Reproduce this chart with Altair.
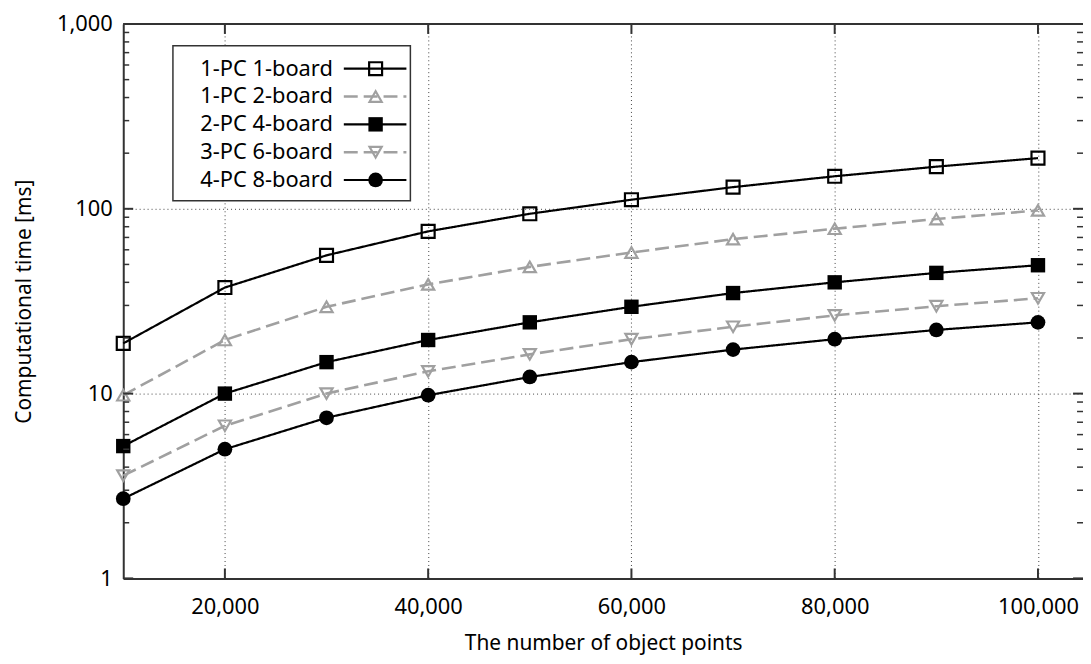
import altair as alt
import pandas as pd

# ---- data ----
x_points = [10000, 20000, 30000, 40000, 50000, 60000, 70000, 80000, 90000, 100000]
pc1_board1 = [18.7, 37.5, 56, 75.5, 94, 112, 131, 150, 169, 188]
pc1_board2 = [9.8, 19.5, 29.5, 39, 48.5, 58, 68.5, 78, 88, 98]
pc2_board4 = [5.2, 10, 14.8, 19.5, 24.3, 29.5, 35, 40, 45, 49.5]
pc3_board6 = [3.6, 6.7, 10, 13.2, 16.3, 19.7, 23, 26.5, 29.7, 32.8]
pc4_board8 = [2.7, 5.0, 7.4, 9.8, 12.3, 14.8, 17.3, 19.7, 22.1, 24.3]

series_names = ["1-PC 1-board", "1-PC 2-board", "2-PC 4-board", "3-PC 6-board", "4-PC 8-board"]
series_values = [pc1_board1, pc1_board2, pc2_board4, pc3_board6, pc4_board8]

x_ticks = [20000, 40000, 60000, 80000, 100000]
y_ticks = [1, 10, 100, 1000]
y_minor = [m * d for d in (1, 10, 100) for m in range(2, 10)]

# ---- styles ----
FONT = "Noto Sans"
GRAY = "#a0a0a0"
line_colors = ["#000000", GRAY, "#000000", GRAY, "#000000"]
dashes = [[1, 0], [14, 6], [1, 0], [14, 6], [1, 0]]
shapes = ["square", "triangle-up", "square", "triangle-down", "circle"]
filled = [False, False, True, False, True]
sizes = [170, 150, 210, 150, 220]

W, H = 966, 558
XMAX = 104430
xscale = alt.Scale(domain=[10000, XMAX], nice=False, zero=False)
yscale = alt.Scale(type="log", domain=[1, 1000], nice=False)

xaxis = alt.Axis(values=x_ticks, labelExpr="format(datum.value, ',')", ticks=False, grid=True,
                 labelPadding=18, titlePadding=16)
yaxis = alt.Axis(values=y_ticks, labelExpr="format(datum.value, ',')", ticks=False, grid=True,
                 labelPadding=11, titlePadding=22)
XT = "The number of object points"
YT = "Computational time [ms]"


def X(field="x"):
    return alt.X(f"{field}:Q", scale=xscale, axis=xaxis, title=XT)


def Y(field="y"):
    return alt.Y(f"{field}:Q", scale=yscale, axis=yaxis, title=YT)


layers = []

# main series
for i, (name, vals) in enumerate(zip(series_names, series_values)):
    df = pd.DataFrame({"x": x_points, "y": vals, "series": name})
    base = alt.Chart(df).encode(x=X(), y=Y())
    line = base.mark_line(color=line_colors[i], strokeDash=dashes[i],
                          strokeWidth=2.2 if i % 2 == 0 else 2.6)
    pt = base.mark_point(shape=shapes[i], filled=filled[i], size=sizes[i],
                         color=line_colors[i], strokeWidth=2.2, opacity=1)
    layers += [line, pt]

# tick marks (inward)
ymaj = pd.DataFrame({"y": y_ticks})
ymin = pd.DataFrame({"y": y_minor})
xmaj = pd.DataFrame({"x": x_ticks})
TC = "#333"
layers.append(alt.Chart(ymaj).mark_rule(color=TC, strokeWidth=2).encode(
    y=Y(), x=alt.value(0), x2=alt.value(10)))
layers.append(alt.Chart(ymaj).mark_rule(color=TC, strokeWidth=2).encode(
    y=Y(), x=alt.value(W - 10), x2=alt.value(W)))
layers.append(alt.Chart(ymin).mark_rule(color=TC, strokeWidth=1.5).encode(
    y=Y(), x=alt.value(0), x2=alt.value(6)))
layers.append(alt.Chart(ymin).mark_rule(color=TC, strokeWidth=1.5).encode(
    y=Y(), x=alt.value(W - 6), x2=alt.value(W)))
layers.append(alt.Chart(xmaj).mark_rule(color=TC, strokeWidth=2).encode(
    x=X(), y=alt.value(H - 10), y2=alt.value(H)))
layers.append(alt.Chart(xmaj).mark_rule(color=TC, strokeWidth=2).encode(
    x=X(), y=alt.value(0), y2=alt.value(10)))
# top border
one = pd.DataFrame({"k": [0]})
layers.append(alt.Chart(one).mark_rule(color=TC, strokeWidth=2).encode(
    x=alt.value(0), x2=alt.value(W), y=alt.value(0)))

# ---- manual legend ----
LX0, LX1, LY0, LY1 = 50, 289, 22, 178
layers.append(alt.Chart(one).mark_rect(fill="white", stroke="#333", strokeWidth=1.5).encode(
    x=alt.value(LX0), x2=alt.value(LX1), y=alt.value(LY0), y2=alt.value(LY1)))
row_y = [45, 73, 101, 129, 157]
for i, name in enumerate(series_names):
    ry = row_y[i]
    layers.append(alt.Chart(one).mark_text(text=name, align="right", baseline="middle",
                                           font=FONT, fontSize=22, color="#000").encode(
        x=alt.value(211), y=alt.value(ry)))
    layers.append(alt.Chart(one).mark_rule(color=line_colors[i], strokeDash=dashes[i],
                                           strokeWidth=2.2 if i % 2 == 0 else 2.6).encode(
        x=alt.value(222), x2=alt.value(285), y=alt.value(ry)))
    layers.append(alt.Chart(one).mark_point(shape=shapes[i], filled=filled[i], size=sizes[i],
                                            color=line_colors[i], strokeWidth=2.2, opacity=1).encode(
        x=alt.value(254), y=alt.value(ry)))

chart = alt.layer(*layers).properties(
    width=W, height=H,
    autosize=alt.AutoSizeParams(type="none"),
    padding={"left": 116, "top": 14, "right": 0, "bottom": 76},
).configure_view(stroke=None).configure(background="white").configure_axis(
    labelFont=FONT, titleFont=FONT, labelFontSize=22, titleFontSize=21,
    titleFontWeight="normal", labelColor="#000", titleColor="#000",
    domainColor="#333", domainWidth=2,
    gridColor="#444", gridDash=[1, 3], gridWidth=1,
)

chart.save("out.html", embed_options={"renderer": "svg", "actions": False})
